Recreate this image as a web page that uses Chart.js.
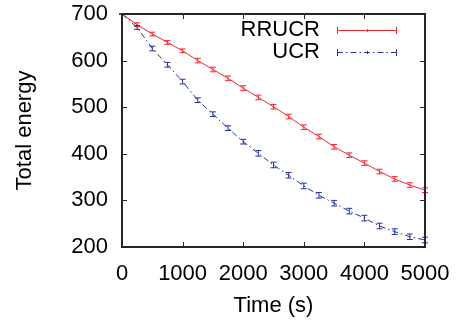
<!DOCTYPE html>
<html><head><meta charset="utf-8">
<script src="https://cdn.jsdelivr.net/npm/chart.js@4/dist/chart.umd.min.js"></script>
<style>html,body{margin:0;padding:0;background:#fff;overflow:hidden}canvas{display:block}</style>
</head><body>
<canvas id="c" width="461" height="320"></canvas>
<script>
const times = [0,250,500,750,1000,1250,1500,1750,2000,2250,2500,2750,3000,3250,3500,3750,4000,4250,4500,4750,5000];
const rrucr = [700,677,657,639,621,600,581,562,541,521,501,480,457,437,415,397,380,362,346,333,322];
const rrucrErr = [0,4,4,4,4,5,5,5,5,5,5,5,5,5,5,5,5,5,5,5,5];
const ucr = [700,671,626,591,555,515,485,455,426,401,376,354,331,311,294,277,262,245,233,222,215];
const ucrErr = [0,4,5,5,5,5,5,5,5,6,6,6,6,6,6,6,6,6,6,6,6];
const seriesNames = ['RRUCR','UCR'];
const seriesColors = ['#ee2a33','#22339c'];
const xTicks = [0,1000,2000,3000,4000,5000];
const yTicks = [200,300,400,500,600,700];
const xTitle = 'Time (s)';
const yTitle = 'Total energy';
const FONT = '"Liberation Sans", Arial, Helvetica, sans-serif';
const errs = [rrucrErr, ucrErr];

const errorBars = {
  id:'errorBars',
  afterDatasetsDraw(chart){
    const ctx = chart.ctx, ys = chart.scales.y;
    chart.data.datasets.forEach((ds,i)=>{
      const meta = chart.getDatasetMeta(i);
      ctx.save();
      ctx.strokeStyle = ds.borderColor; ctx.lineWidth = 1; ctx.setLineDash([]);
      meta.data.forEach((pt,j)=>{
        const v = ds.data[j].y, e = errs[i][j];
        const x = pt.x, y1 = ys.getPixelForValue(v+e), y2 = ys.getPixelForValue(v-e);
        ctx.beginPath();
        ctx.moveTo(x,y1); ctx.lineTo(x,y2);
        ctx.moveTo(x-3,y1); ctx.lineTo(x+3,y1);
        ctx.moveTo(x-3,y2); ctx.lineTo(x+3,y2);
        ctx.stroke();
      });
      ctx.restore();
    });
  }
};

const frame = {
  id:'frame',
  afterDraw(chart){
    const {ctx, chartArea:a, scales:{x,y}} = chart;
    ctx.save();
    ctx.strokeStyle = '#262626'; ctx.lineWidth = 1;
    ctx.beginPath();
    xTicks.forEach(t=>{ const px = Math.round(x.getPixelForValue(t))+0.5;
      ctx.moveTo(px,a.bottom); ctx.lineTo(px,a.bottom-5);
      ctx.moveTo(px,a.top); ctx.lineTo(px,a.top+5); });
    yTicks.forEach(t=>{ const py = Math.round(y.getPixelForValue(t))+0.5;
      ctx.moveTo(a.left,py); ctx.lineTo(a.left+5,py);
      ctx.moveTo(a.right,py); ctx.lineTo(a.right-5,py); });
    ctx.stroke();
    ctx.lineWidth = 2;
    ctx.strokeRect(a.left, a.top, a.right-a.left, a.bottom-a.top);
    // legend
    ctx.font = '22px ' + FONT;
    ctx.textAlign = 'right'; ctx.textBaseline = 'middle';
    const rows = [30, 52];
    chart.data.datasets.forEach((ds,i)=>{
      const ry = rows[i];
      ctx.fillStyle = '#000';
      ctx.fillText(ds.label, 320, ry);
      ctx.strokeStyle = ds.borderColor; ctx.lineWidth = 1;
      ctx.setLineDash(ds.borderDash || []);
      ctx.beginPath(); ctx.moveTo(337, ry+0.5); ctx.lineTo(397, ry+0.5); ctx.stroke();
      ctx.setLineDash([]);
      ctx.beginPath();
      ctx.moveTo(337.5, ry-3); ctx.lineTo(337.5, ry+4);
      ctx.moveTo(396.5, ry-3); ctx.lineTo(396.5, ry+4);
      ctx.moveTo(367.5, ry-1); ctx.lineTo(367.5, ry+2);
      ctx.stroke();
    });
    ctx.restore();
  }
};

const mk = (vals) => times.map((t,k)=>({x:t, y:vals[k]}));
const noPad = (s) => { s.paddingTop = 0; s.paddingBottom = 0; s.paddingLeft = 0; s.paddingRight = 0; };

new Chart(document.getElementById('c'), {
  type:'line',
  data:{ datasets:[
    {label:seriesNames[0], data:mk(rrucr), borderColor:seriesColors[0], borderWidth:1, pointRadius:0, tension:0, fill:false},
    {label:seriesNames[1], data:mk(ucr), borderColor:seriesColors[1], borderWidth:1, pointRadius:0, tension:0, fill:false, borderDash:[6,3,1.5,3]}
  ]},
  options:{
    responsive:false, animation:false, devicePixelRatio:1,
    layout:{padding:{top:14, right:36, left:0, bottom:0}},
    plugins:{legend:{display:false}, tooltip:{enabled:false}},
    scales:{
      x:{type:'linear', min:0, max:5000,
        afterFit(s){ s.height = 73; noPad(s); },
        afterBuildTicks(s){ s.ticks = xTicks.map(v=>({value:v})); },
        grid:{display:false, drawTicks:false}, border:{display:false},
        ticks:{color:'#000', padding:14, maxRotation:0, font:{family:FONT, size:22}, callback:(v)=>String(v)},
        title:{display:true, text:xTitle, color:'#000', padding:{top:0,bottom:1}, font:{family:FONT, size:22}}
      },
      y:{type:'linear', min:200, max:700,
        afterFit(s){ s.width = 122; noPad(s); },
        afterBuildTicks(s){ s.ticks = yTicks.map(v=>({value:v})); },
        grid:{display:false, drawTicks:false}, border:{display:false},
        ticks:{color:'#000', padding:14, font:{family:FONT, size:22}, callback:(v)=>String(v)},
        title:{display:true, text:yTitle, color:'#000', padding:{top:12,bottom:0}, font:{family:FONT, size:22}}
      }
    }
  },
  plugins:[errorBars, frame]
});
</script>
</body></html>
